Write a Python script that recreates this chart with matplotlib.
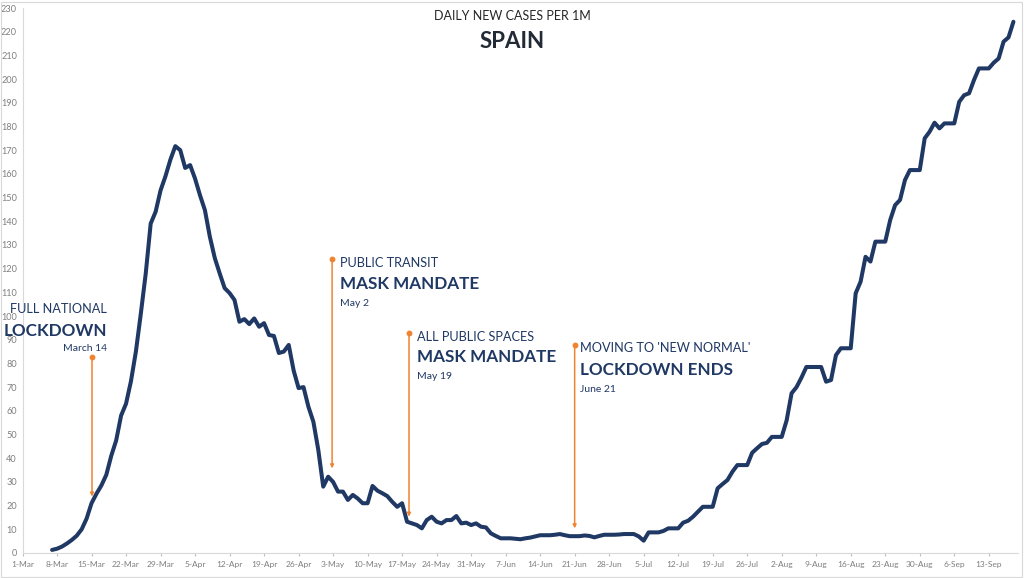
import numpy as np
import pandas as pd
import matplotlib
matplotlib.use('Agg')
import matplotlib.pyplot as plt
import matplotlib.dates as mdates
from matplotlib.patches import Rectangle

# daily new cases per 1M, Spain, 7-Mar .. 18-Sep
start_date = '2020-03-07'
cases = [
    1.3, 1.8, 2.7, 4.0, 5.5, 7.3, 10.0, 14.5, 21.0, 25.0,
    28.5, 33.0, 41.0, 47.5, 58.0, 63.0, 72.5, 85.0, 101.0, 118.0,
    139.0, 144.0, 153.0, 159.0, 166.0, 171.7, 170.0, 162.5, 163.7, 158.0,
    151.0, 144.7, 133.5, 124.5, 118.0, 111.8, 109.7, 106.8, 97.6, 98.7,
    96.6, 99.0, 95.5, 97.0, 92.0, 91.6, 84.4, 85.0, 87.8, 77.0,
    69.6, 70.0, 61.7, 55.4, 43.5, 28.0, 32.2, 30.0, 25.9, 25.9,
    22.4, 24.5, 23.0, 21.0, 21.0, 28.3, 26.3, 25.2, 24.0, 21.6,
    19.5, 21.0, 13.2, 12.5, 11.8, 10.4, 13.9, 15.3, 13.2, 12.5,
    13.9, 13.9, 15.6, 12.5, 12.8, 11.8, 12.5, 11.1, 10.8, 8.3,
    7.2, 6.2, 6.2, 6.2, 6.0, 5.8, 6.2, 6.5, 7.0, 7.5,
    7.5, 7.5, 7.7, 8.0, 7.5, 7.1, 7.1, 7.1, 7.4, 7.2,
    6.6, 7.2, 7.7, 7.7, 7.7, 7.8, 8.0, 8.0, 8.0, 7.0,
    5.2, 8.7, 8.7, 8.7, 9.3, 10.4, 10.4, 10.4, 12.8, 13.6,
    15.3, 17.4, 19.5, 19.5, 19.5, 27.3, 29.1, 30.8, 34.3, 37.1,
    37.1, 37.1, 42.3, 44.2, 46.0, 46.5, 49.0, 49.0, 49.0, 56.0,
    67.4, 70.0, 74.0, 78.5, 78.5, 78.5, 78.5, 72.3, 73.0, 83.5,
    86.4, 86.4, 86.4, 109.6, 114.5, 125.0, 123.0, 131.4, 131.4, 131.4,
    140.5, 146.8, 149.0, 157.4, 161.6, 161.6, 161.6, 175.0, 177.8, 181.6,
    179.2, 181.3, 181.3, 181.3, 190.4, 193.2, 194.0, 199.6, 204.5, 204.5,
    204.5, 206.9, 208.7, 215.8, 217.6, 224.2,
]

# events: days after 1-Mar where the orange marker sits, arrow top / bottom
event_days = [14.1, 62.8, 78.4, 112.0]
event_top = [82.9, 124.0, 93.0, 87.8]
event_bottom = [23.8, 35.7, 15.3, 10.4]
event_head = ['FULL NATIONAL', 'PUBLIC TRANSIT', 'ALL PUBLIC SPACES', "MOVING TO 'NEW NORMAL'"]
event_main = ['LOCKDOWN', 'MASK MANDATE', 'MASK MANDATE', 'LOCKDOWN ENDS']
event_date = ['March 14', 'May 2', 'May 19', 'June 21']

yticks = list(range(0, 231, 10))

NAVY = '#1F3864'
ORANGE = '#F0832F'
GRAY = '#7F7F7F'
FONT = ['Lato', 'DejaVu Sans']

plt.rcParams['font.family'] = FONT

W, H = 1024, 578
fig = plt.figure(figsize=(W / 100, H / 100), dpi=100)
left_px, right_px, top_px, bottom_px = 22.5, 1018, 8, 553
ax = fig.add_axes([left_px / W, 1 - bottom_px / H,
                   (right_px - left_px) / W, (bottom_px - top_px) / H])

origin = mdates.date2num(pd.Timestamp('2020-03-01'))
dates = mdates.date2num(pd.date_range(start_date, periods=len(cases)))
ax.plot(dates, cases, color=NAVY, lw=2.9, solid_joinstyle='round', solid_capstyle='round')

ax.set_xlim(origin, origin + (right_px - left_px) / 4.93)
ax.set_ylim(0, 230)

ax.set_xticks(origin + np.arange(0, 197, 7))
ax.xaxis.set_major_formatter(mdates.DateFormatter('%-d-%b'))
ax.set_yticks(yticks)
ax.tick_params(axis='x', colors='#BFBFBF', length=2.5, width=0.8, labelsize=6,
               labelcolor=GRAY, pad=3)
ax.tick_params(axis='y', length=0, labelsize=6.6, labelcolor=GRAY, pad=4)
for s in ['top', 'right']:
    ax.spines[s].set_visible(False)
for s in ['left', 'bottom']:
    ax.spines[s].set_color('#D9D9D9')
    ax.spines[s].set_linewidth(0.8)

# text offsets relative to the top of each arrow, in points
text_dx = [11, 5.5, 5.8, 3.6]
text_dy = [[34, 18.5, 5.5], [-2.9, -18, -31.7], [-2.9, -17.7, -31.7], [-2.4, -18, -31.9]]
text_ha = ['right', 'left', 'left', 'left']
sizes = [9.2, 12.3, 7.5]
weights = ['normal', 'bold', 'normal']

for i, d in enumerate(event_days):
    x = origin + d
    ax.annotate('', xy=(x, event_bottom[i]), xytext=(x, event_top[i]),
                arrowprops=dict(arrowstyle='-|>', color=ORANGE, lw=1.1,
                                mutation_scale=5, shrinkA=0, shrinkB=0))
    ax.plot([x], [event_top[i]], 'o', color=ORANGE, ms=3.2, zorder=5)
    labels = [event_head[i], event_main[i], event_date[i]]
    for k in range(3):
        ax.annotate(labels[k], xy=(x, event_top[i]), xytext=(text_dx[i], text_dy[i][k]),
                    textcoords='offset points', ha=text_ha[i], va='center',
                    fontsize=sizes[k], fontweight=weights[k], color=NAVY)

fig.text(512.5 / W, 1 - 16.5 / H, 'DAILY NEW CASES PER 1M', ha='center', va='center',
         fontsize=9, color='#262626')
fig.text(512 / W, 1 - 41.7 / H, 'SPAIN', ha='center', va='center',
         fontsize=16, fontweight='bold', color='#222A35')

fig.patches.append(Rectangle((0.001, 0.002), 0.997, 0.995, transform=fig.transFigure,
                             fill=False, edgecolor='#D9D9D9', lw=0.8))

fig.savefig('out.png', dpi=100)
